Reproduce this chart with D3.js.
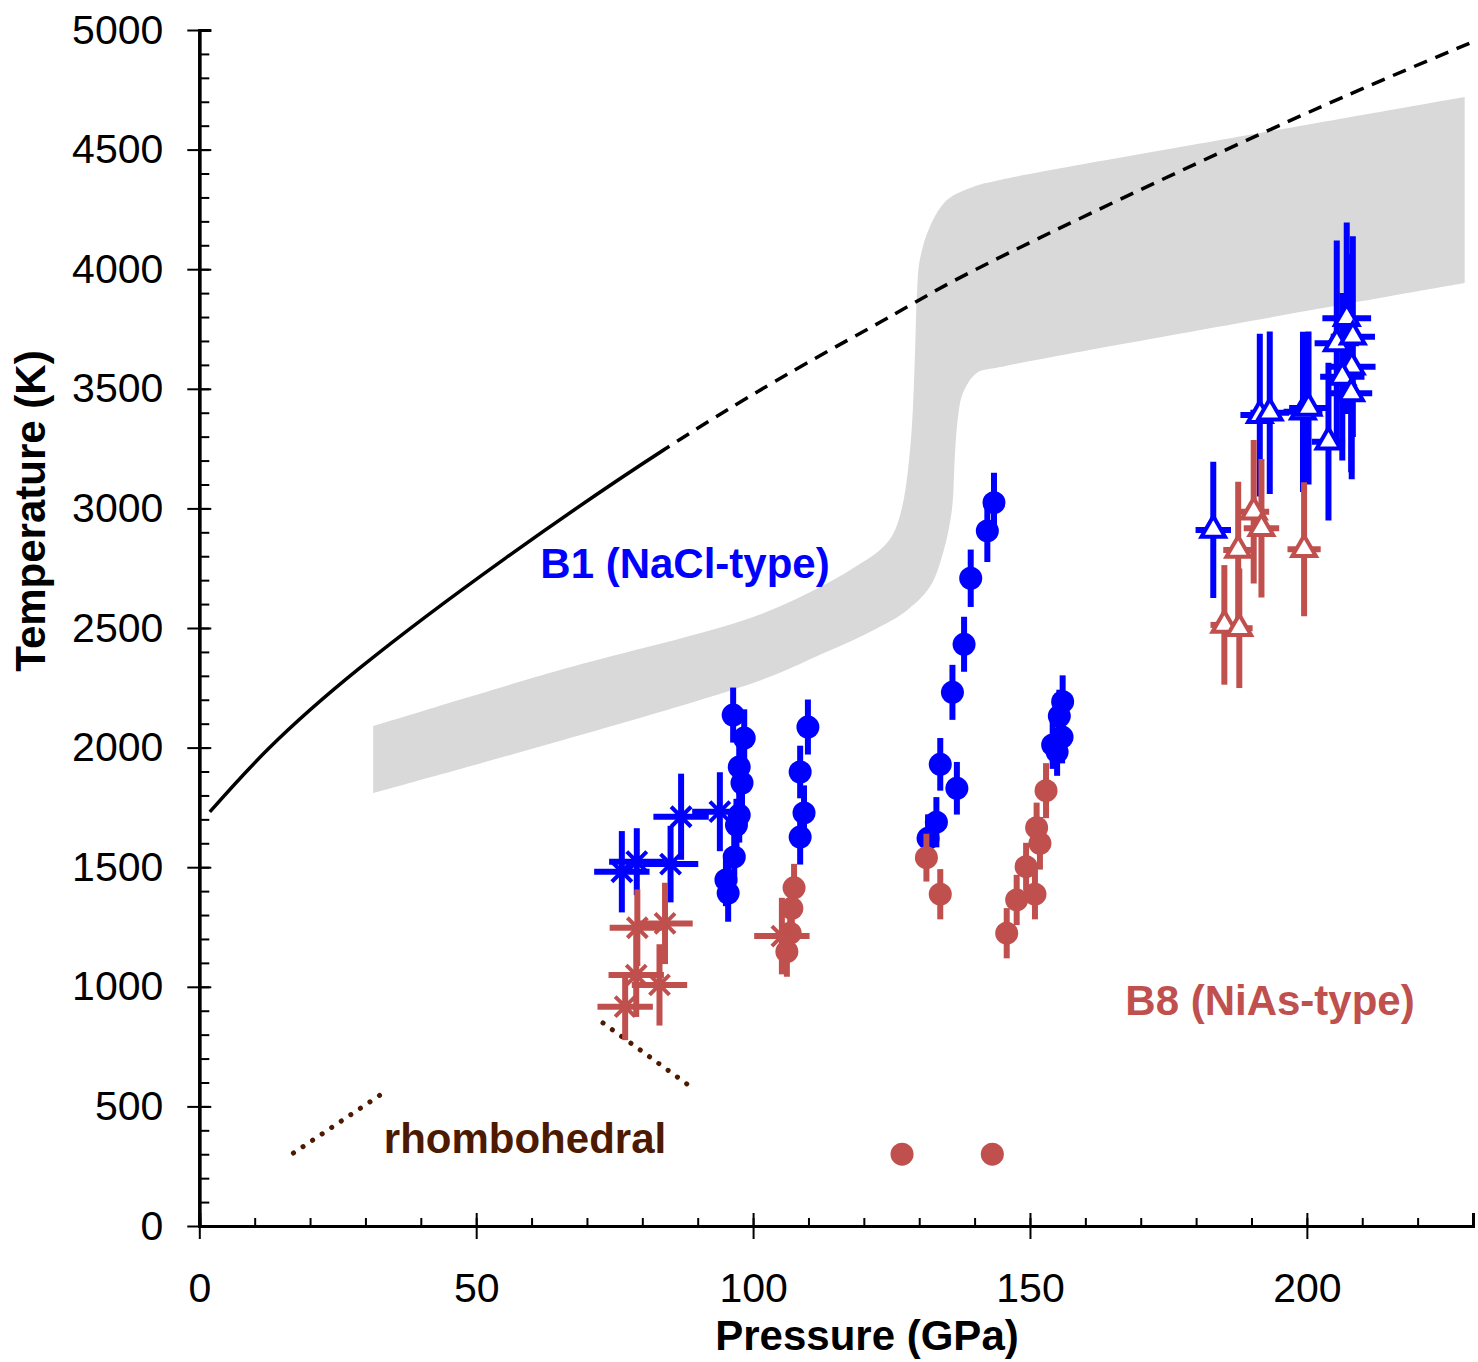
<!DOCTYPE html>
<html>
<head>
<meta charset="utf-8">
<script src="https://cdn.jsdelivr.net/npm/d3@7"></script>
<style>
  body { margin: 0; background: #fff; }
  svg text { font-family: "Liberation Sans", Arial, sans-serif; }
</style>
</head>
<body>
<svg id="chart"></svg>
<script>
// melting curve: one smooth curve, solid below meltSplitP, dashed above
const meltP = [1.9, 29, 84.1, 123, 144, 192, 229.5];
const meltT = [1731, 2333, 3248, 3779, 4043, 4569, 4946];
const meltSplitP = 84.1;

// gray B1/B8 transition band
const bandTopP = [31.4, 65.1, 100.0, 112.8, 118.4, 122.9, 125.2, 127.0, 128.5, 129.2, 129.6, 130.1, 131.9, 135.0, 139.7, 144.6, 191.5, 228.5];
const bandTopT = [2090, 2324, 2546, 2680, 2755, 2826, 2889, 3014, 3286, 3620, 3900, 4038, 4176, 4289, 4344, 4373, 4569, 4720];
const bandBotP = [31.4, 100.0, 112.8, 121.8, 127.4, 131.9, 134.3, 135.9, 136.4, 137.0, 137.9, 140.4, 144.6, 228.5];
const bandBotT = [1810, 2270, 2395, 2492, 2567, 2671, 2814, 2993, 3202, 3382, 3482, 3566, 3591, 3942];

// rhombohedral boundaries (dotted)
const rhombo1P = [17.0, 33.2];
const rhombo1T = [305, 556];
const rhombo2P = [72.9, 88.8];
const rhombo2T = [849, 581];

// B1 filled circles
const b1DotP = [96.4, 98.4, 97.5, 98.0, 97.5, 97.0, 96.6, 95.1, 95.5, 109.9, 108.5, 109.2, 108.5, 143.5, 142.3, 139.3, 138.1, 136.0, 133.8, 136.8, 133.1, 131.6, 155.9, 155.3, 155.8, 154.1, 154.9];
const b1DotT = [2136, 2040, 1919, 1852, 1718, 1676, 1543, 1447, 1392, 2086, 1898, 1727, 1626, 3024, 2906, 2708, 2432, 2231, 1930, 1830, 1688, 1621, 2192, 2132, 2044, 2011, 1982];
const b1DotErr = [115, 120, 115, 115, 115, 110, 110, 110, 120, 115, 110, 115, 115, 125, 130, 120, 115, 115, 110, 110, 105, 100, 110, 110, 110, 100, 100];

// B8 filled circles
const b8DotP = [131.3, 133.8, 152.9, 151.2, 151.8, 149.3, 150.9, 147.6, 145.8, 107.4, 107.0, 106.7, 106.1];
const b8DotT = [1540, 1387, 1820, 1665, 1600, 1502, 1387, 1363, 1224, 1414, 1328, 1224, 1147];
const b8DotErr = [100, 105, 115, 105, 110, 100, 105, 105, 105, 100, 100, 100, 105];

// B8 at room temperature (no error bars)
const b8RoomP = [126.9, 143.2];
const b8RoomT = [300, 300];

// B1 asterisks
const b1StarP = [76.3, 79.0, 85.1, 87.0, 94.0];
const b1StarT = [1481, 1523, 1513, 1711, 1732];
const b1StarPErr = [5, 5, 5, 5, 5];
const b1StarTErr = [170, 140, 160, 180, 165];

// B8 asterisks
const b8StarP = [79.1, 84.1, 78.9, 83.1, 76.9, 105.2];
const b8StarT = [1247, 1265, 1049, 1008, 917, 1212];
const b8StarPErr = [5, 5, 5, 5, 5, 5];
const b8StarTErr = [160, 170, 175, 170, 140, 160];

// B1 open triangles
const b1TriP = [183.1, 191.5, 193.3, 199.3, 200.3, 203.9, 205.4, 207.2, 208.3, 208.1, 206.4, 208.0];
const b1TriT = [2910, 3390, 3400, 3404, 3420, 3279, 3690, 3795, 3718, 3592, 3550, 3481];
const b1TriPErr = [3.2, 3.5, 3.5, 3.5, 3.5, 3, 4, 4.4, 4, 4.3, 4, 3.8];
const b1TriTErr = [285, 340, 340, 335, 320, 330, 430, 400, 420, 470, 350, 330];

// B8 open triangles
const b8TriP = [190.4, 191.8, 187.6, 185.1, 187.8, 199.5];
const b8TriT = [2986, 2917, 2826, 2513, 2499, 2829];
const b8TriPErr = [2.8, 3.2, 2.7, 2.5, 2.4, 3];
const b8TriTErr = [300, 290, 285, 250, 250, 280];

const xMajor = [0, 50, 100, 150, 200];
const yMajor = [0, 500, 1000, 1500, 2000, 2500, 3000, 3500, 4000, 4500, 5000];

const blue = "#0000ff", red = "#c0504d", brown = "#4d1a00", gray = "#d9d9d9";

const width = 1478, height = 1362;
const svg = d3.select("#chart").attr("width", width).attr("height", height);

const x = d3.scaleLinear().domain([0, 230]).range([199.3, 1473]);
const y = d3.scaleLinear().domain([0, 5000]).range([1226, 30]);

const zip = (a, b) => a.map((v, i) => [v, b[i]]);

// band
const bandLine = d3.line().x(d => x(d[0])).y(d => y(d[1])).curve(d3.curveCatmullRom.alpha(0.5));
const topStr = bandLine(zip(bandTopP, bandTopT));
const botStr = bandLine(zip(bandBotP, bandBotT).reverse());
svg.append("path")
  .attr("d", topStr + botStr.replace(/^M/, "L") + "Z")
  .attr("fill", gray);

// melting curve, split by clip paths
const defs = svg.append("defs");
defs.append("clipPath").attr("id", "clipSolid").append("rect")
  .attr("x", 0).attr("y", 0).attr("width", x(meltSplitP)).attr("height", height);
defs.append("clipPath").attr("id", "clipDash").append("rect")
  .attr("x", x(meltSplitP)).attr("y", 0).attr("width", width).attr("height", height);

const meltLine = d3.line().x(d => x(d[0])).y(d => y(d[1])).curve(d3.curveNatural);
const meltPath = meltLine(zip(meltP, meltT));
svg.append("path").attr("clip-path", "url(#clipSolid)")
  .attr("d", meltPath).attr("fill", "none").attr("stroke", "#000").attr("stroke-width", 3.5);
svg.append("path").attr("clip-path", "url(#clipDash)")
  .attr("d", meltPath).attr("fill", "none").attr("stroke", "#000").attr("stroke-width", 3.5)
  .attr("stroke-dasharray", "14,9");

// rhombohedral dotted lines
[[rhombo1P, rhombo1T], [rhombo2P, rhombo2T]].forEach(([p, t]) => {
  svg.append("path").datum(zip(p, t))
    .attr("d", d3.line().x(d => x(d[0])).y(d => y(d[1])))
    .attr("fill", "none").attr("stroke", brown).attr("stroke-width", 5)
    .attr("stroke-linecap", "round").attr("stroke-dasharray", "0.1,11.4");
});

// axes
const fs = 41, fsLabel = 42;
const gx = svg.append("g").attr("transform", `translate(0,${y(0)})`);
gx.call(d3.axisTop(x).tickValues(d3.range(0, 231, 10)).tickSize(8).tickFormat(""));
gx.append("g").call(d3.axisTop(x).tickValues(xMajor).tickSize(13).tickFormat(""));
gx.append("g").call(d3.axisBottom(x).tickValues(xMajor).tickSize(13).tickPadding(34).tickSizeOuter(0).tickFormat(d3.format("d")));
gx.selectAll("path.domain").attr("stroke-width", 3);
gx.selectAll("line").attr("stroke-width", 2);

const gy = svg.append("g").attr("transform", `translate(${x(0)},0)`);
gy.call(d3.axisRight(y).tickValues(d3.range(0, 5001, 100)).tickSize(10).tickFormat(""));
gy.append("g").call(d3.axisRight(y).tickValues(yMajor).tickSize(12).tickFormat(""));
gy.append("g").call(d3.axisLeft(y).tickValues(yMajor).tickSize(12).tickPadding(24).tickSizeOuter(0).tickFormat(d3.format("d")));
gy.selectAll("path.domain").attr("stroke-width", 3);
gy.selectAll("line").attr("stroke-width", 2);

svg.selectAll(".tick text").attr("font-size", fs).attr("fill", "#000")
  .style("font-family", '"Liberation Sans", Arial, sans-serif');

// axis titles
svg.append("text").attr("x", 867).attr("y", 1350).attr("text-anchor", "middle")
  .attr("font-size", fsLabel).attr("font-weight", "bold").text("Pressure (GPa)");
svg.append("text").attr("transform", "translate(45,511) rotate(-90)").attr("text-anchor", "middle")
  .attr("font-size", fsLabel).attr("font-weight", "bold").text("Temperature (K)");

// marker shapes
const timesSym = {
  draw(ctx, size) {
    const r = Math.sqrt(size) / 2;
    ctx.moveTo(-r, -r); ctx.lineTo(r, r);
    ctx.moveTo(-r, r); ctx.lineTo(r, -r);
  }
};

function errBars(g, pts, color) {
  pts.forEach(d => {
    if (d.te) g.append("line").attr("x1", x(d.p)).attr("x2", x(d.p))
      .attr("y1", y(d.t - d.te)).attr("y2", y(d.t + d.te))
      .attr("stroke", color).attr("stroke-width", 6);
    if (d.pe) g.append("line").attr("y1", y(d.t)).attr("y2", y(d.t))
      .attr("x1", x(d.p - d.pe)).attr("x2", x(d.p + d.pe))
      .attr("stroke", color).attr("stroke-width", 6);
  });
}

function series(color, dots, stars, tris) {
  const g = svg.append("g");
  errBars(g, dots, color);
  g.selectAll(".dot").data(dots).join("circle")
    .attr("cx", d => x(d.p)).attr("cy", d => y(d.t)).attr("r", 11.5).attr("fill", color);
  errBars(g, stars, color);
  g.selectAll(".star").data(stars).join("path")
    .attr("transform", d => `translate(${x(d.p)},${y(d.t)})`)
    .attr("d", d3.symbol(timesSym, 400)).attr("fill", "none")
    .attr("stroke", color).attr("stroke-width", 4);
  errBars(g, tris, color);
  g.selectAll(".tri").data(tris).join("path")
    .attr("transform", d => `translate(${x(d.p)},${y(d.t)})`)
    .attr("d", d3.symbol(d3.symbolTriangle, 240)).attr("fill", "#fff")
    .attr("stroke", color).attr("stroke-width", 4);
}

const mk = (p, t, te, pe) => p.map((v, i) => ({ p: v, t: t[i], te: te ? te[i] : 0, pe: pe ? pe[i] : 0 }));

series(blue, mk(b1DotP, b1DotT, b1DotErr), mk(b1StarP, b1StarT, b1StarTErr, b1StarPErr), mk(b1TriP, b1TriT, b1TriTErr, b1TriPErr));
series(red, mk(b8DotP, b8DotT, b8DotErr).concat(mk(b8RoomP, b8RoomT)), mk(b8StarP, b8StarT, b8StarTErr, b8StarPErr), mk(b8TriP, b8TriT, b8TriTErr, b8TriPErr));

// labels
svg.append("text").attr("x", 685).attr("y", 578).attr("text-anchor", "middle")
  .attr("font-size", fsLabel).attr("font-weight", "bold").attr("fill", blue).text("B1 (NaCl-type)");
svg.append("text").attr("x", 1270).attr("y", 1015).attr("text-anchor", "middle")
  .attr("font-size", fsLabel).attr("font-weight", "bold").attr("fill", red).text("B8 (NiAs-type)");
svg.append("text").attr("x", 525).attr("y", 1153).attr("text-anchor", "middle")
  .attr("font-size", fsLabel).attr("font-weight", "bold").attr("fill", brown).text("rhombohedral");
</script>
</body>
</html>
